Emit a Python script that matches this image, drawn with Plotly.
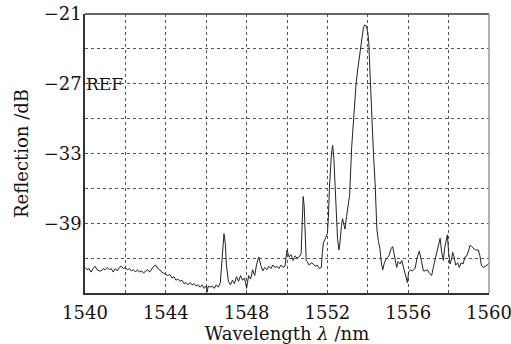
import plotly.graph_objects as go

wavelength = [
    1540.0, 1540.1, 1540.2, 1540.3, 1540.4, 1540.5, 1540.6, 1540.7, 1540.8, 1540.9,
    1541.0, 1541.1, 1541.2, 1541.3, 1541.4, 1541.5, 1541.6, 1541.7, 1541.8, 1541.9,
    1542.0, 1542.1, 1542.2, 1542.3, 1542.4, 1542.5, 1542.6, 1542.7, 1542.8, 1542.9,
    1543.0, 1543.1, 1543.2, 1543.3, 1543.4, 1543.5, 1543.6, 1543.7, 1543.8, 1543.9,
    1544.0, 1544.1, 1544.2, 1544.3, 1544.4, 1544.5, 1544.6, 1544.7, 1544.8, 1544.9,
    1545.0, 1545.1, 1545.2, 1545.3, 1545.4, 1545.5, 1545.6, 1545.7, 1545.8, 1545.9,
    1546.0, 1546.05, 1546.1, 1546.2, 1546.3, 1546.4, 1546.5, 1546.6, 1546.7, 1546.75,
    1546.8, 1546.88, 1546.95, 1547.0, 1547.1, 1547.2, 1547.3, 1547.4, 1547.5, 1547.6,
    1547.7, 1547.8, 1547.9, 1548.0, 1548.1, 1548.2, 1548.3, 1548.4, 1548.5, 1548.6,
    1548.7, 1548.8, 1548.9, 1549.0, 1549.1, 1549.2, 1549.3, 1549.4, 1549.5, 1549.6,
    1549.7, 1549.8, 1549.9, 1550.0, 1550.1, 1550.2, 1550.3, 1550.4, 1550.5, 1550.6,
    1550.7, 1550.75, 1550.8, 1550.85, 1550.9, 1550.95, 1551.0, 1551.1, 1551.2, 1551.3,
    1551.4, 1551.5, 1551.6, 1551.7, 1551.75, 1551.8, 1551.9, 1552.0, 1552.05, 1552.1,
    1552.2, 1552.26, 1552.32, 1552.38, 1552.45, 1552.5, 1552.57, 1552.62, 1552.7, 1552.75,
    1552.8, 1552.87, 1552.95, 1553.05, 1553.1, 1553.2, 1553.3, 1553.42, 1553.5, 1553.61,
    1553.7, 1553.78, 1553.85, 1553.92, 1554.0, 1554.05, 1554.12, 1554.19, 1554.28, 1554.36,
    1554.45, 1554.52, 1554.6, 1554.68, 1554.74, 1554.82, 1554.93, 1555.05, 1555.15, 1555.23,
    1555.32, 1555.43, 1555.5, 1555.6, 1555.68, 1555.8, 1555.9, 1555.96, 1556.02, 1556.12,
    1556.2, 1556.34, 1556.45, 1556.55, 1556.65, 1556.75, 1556.83, 1556.95, 1557.05, 1557.16,
    1557.28, 1557.41, 1557.5, 1557.58, 1557.66, 1557.74, 1557.8, 1557.88, 1557.94, 1558.0,
    1558.07, 1558.15, 1558.2, 1558.27, 1558.35, 1558.45, 1558.53, 1558.62, 1558.72, 1558.81,
    1558.9, 1559.0, 1559.06, 1559.15, 1559.25, 1559.35, 1559.47, 1559.55, 1559.62, 1559.72,
    1559.82, 1559.92, 1560.0,
]

reflection = [
    -42.8, -43.0, -42.9, -43.2, -42.9, -42.7, -43.0, -43.1, -43.1, -42.9,
    -43.0, -42.8, -43.0, -42.9, -43.2, -42.9, -43.1, -42.8, -42.7, -42.9,
    -42.8, -43.0, -42.9, -43.1, -43.0, -43.2, -43.0, -43.2, -43.1, -43.3,
    -43.1, -43.0, -43.2, -42.9, -42.7, -42.6, -42.9, -43.0, -43.2, -43.3,
    -43.4, -43.5, -43.4, -43.7, -43.6, -43.9, -43.8, -44.0, -43.9, -44.2,
    -44.1, -44.3, -44.1, -44.3, -44.2, -44.4, -44.3, -44.5, -44.3, -44.6,
    -44.4, -44.9, -44.4, -44.5, -44.4, -44.6, -44.3, -44.5, -44.1, -42.8,
    -41.2, -39.9, -40.8, -42.6, -44.0, -44.3, -43.9, -44.2, -43.6, -44.0,
    -43.5, -43.9, -43.7, -44.6, -43.5, -43.8, -43.0, -43.5, -42.5, -41.9,
    -42.6, -43.1, -42.8, -43.0, -42.7, -42.9, -42.6, -42.8, -42.7, -42.9,
    -42.6, -42.8, -42.7, -41.3, -41.9, -41.7, -42.2, -41.8, -42.0, -41.9,
    -41.6, -38.5, -36.7, -37.5, -40.5, -42.2, -42.3, -42.6, -42.4, -42.5,
    -42.7, -42.6, -42.9, -42.8, -41.5, -40.7, -40.3, -39.9, -38.5, -36.0,
    -33.0, -32.3, -33.4, -35.5, -38.5, -40.3, -41.3, -40.7, -39.2, -38.6,
    -39.0, -39.5, -38.4, -37.3, -36.6, -32.5, -29.5, -27.0, -25.8, -24.4,
    -23.3, -22.2, -21.95, -22.0, -22.6, -23.5, -26.5, -29.8, -33.0, -35.5,
    -39.5, -40.5, -41.2, -42.5, -43.0, -42.4, -42.0, -41.8, -41.2, -41.0,
    -41.9, -42.8, -42.3, -42.5, -42.2, -43.0, -43.6, -44.1, -43.2, -43.0,
    -43.1, -42.9, -41.9, -41.4, -42.2, -43.1, -43.1, -43.0, -43.3, -43.5,
    -42.5, -41.6, -40.8, -40.3, -41.5, -42.2, -41.2, -40.6, -40.0, -41.5,
    -42.5, -42.1, -41.5, -41.9, -42.6, -42.4, -42.8, -42.4, -42.5, -41.9,
    -41.8, -41.3, -40.9, -41.0, -41.2, -41.3, -41.3, -41.8, -42.6, -42.8,
    -42.7, -42.6, -42.4,
]

x_tick_values = [1540, 1544, 1548, 1552, 1556, 1560]
y_tick_values = [-21, -27, -33, -39]
ref_label = "REF"
ref_level = -27

FONT = "DejaVu Serif"

fig = go.Figure()
fig.add_trace(go.Scatter(
    x=wavelength, y=reflection, mode="lines",
    line=dict(color="#222222", width=1),
    showlegend=False,
))

fig.add_annotation(
    x=1540, y=ref_level, xref="x", yref="y", text=ref_label,
    showarrow=False, xanchor="left", yanchor="middle", xshift=-1,
    font=dict(family=FONT, size=17, color="#111111"),
)

grid_col = "#555555"
fig.update_xaxes(
    range=[1540, 1560], tickvals=x_tick_values, ticks="",
    showgrid=True, gridcolor=grid_col, griddash="dot", gridwidth=1,
    minor=dict(dtick=2, tick0=1540, showgrid=True, gridcolor=grid_col, griddash="dot", gridwidth=1),
    showline=True, linecolor="#333333", linewidth=1.5, mirror=False,
    zeroline=False, automargin=False,
    tickfont=dict(family=FONT, size=18, color="#111111"),
    ticklabeloverflow="allow",
    ticklabelstandoff=3,
    title=dict(text="Wavelength <i>λ</i> /nm", font=dict(family=FONT, size=18, color="#111111"), standoff=3),
)
fig.update_yaxes(
    range=[-45, -21], tickvals=y_tick_values, ticks="",
    showgrid=True, gridcolor=grid_col, griddash="dot", gridwidth=1,
    minor=dict(dtick=3, tick0=-21, showgrid=True, gridcolor=grid_col, griddash="dot", gridwidth=1),
    showline=True, linecolor="#333333", linewidth=1.5,
    zeroline=False, automargin=False,
    tickfont=dict(family=FONT, size=18, color="#111111"),
    ticklabeloverflow="allow",
    ticklabelstandoff=-2,
    title=dict(text="Reflection /dB", font=dict(family=FONT, size=18, color="#111111"), standoff=10),
)

# top and right frame lines
fig.add_shape(type="line", xref="paper", yref="paper", x0=0, x1=1, y0=1, y1=1,
              line=dict(color="#333333", width=1.5))
fig.add_shape(type="line", xref="paper", yref="paper", x0=1, x1=1, y0=0, y1=1,
              line=dict(color="#999999", width=1.5))

fig.update_layout(
    width=511, height=344,
    margin=dict(l=85, r=22, t=14, b=51),
    paper_bgcolor="white", plot_bgcolor="white",
)

fig.write_html("out.html")
